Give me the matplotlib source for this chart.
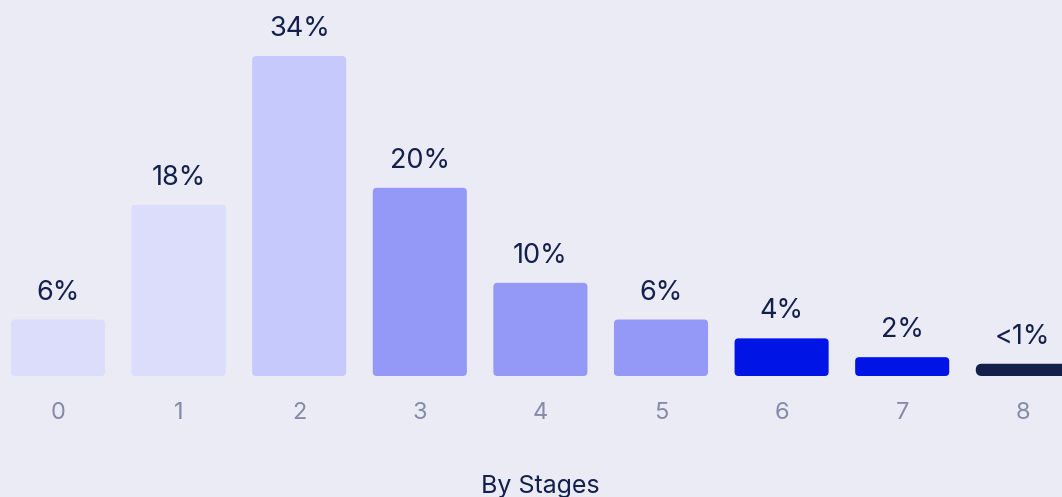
import matplotlib.pyplot as plt
from matplotlib.patches import FancyBboxPatch

plt.rcParams['font.family'] = ['Inter', 'DejaVu Sans']

# data
stages = ['0', '1', '2', '3', '4', '5', '6', '7', '8']
shares = [6, 18.2, 34, 20, 9.9, 6, 4, 2, 1.3]
share_labels = ['6%', '18%', '34%', '20%', '10%', '6%', '4%', '2%', '<1%']
bar_colors = ['#DCDDFB', '#DCDDFB', '#C5C9FB', '#9498F7', '#9498F7', '#9498F7',
              '#0014E6', '#0014E6', '#121F4B']

bg = '#EBEBF6'
navy = '#13204A'

fig = plt.figure(figsize=(10.62, 4.97), dpi=100, facecolor=bg)
ax = fig.add_axes([0, 121 / 497, 1, 376 / 497])
ax.set_facecolor(bg)

px_x = 120.6   # pixels per stage
px_y = 9.41    # pixels per percent
ax.set_xlim(-58 / px_x, (1062 - 58) / px_x)
ax.set_ylim(0, 376 / px_y)

width = 0.78
radius = 4 / px_x
for i, (v, c) in enumerate(zip(shares, bar_colors)):
    r = radius if i < 8 else 6 / px_x
    p = FancyBboxPatch((i - width / 2, 0), width, v,
                       boxstyle=f'round,pad=0,rounding_size={r}',
                       mutation_aspect=px_x / px_y,
                       facecolor=c, edgecolor='none', clip_on=False)
    ax.add_patch(p)
    ax.annotate(share_labels[i], (i, v), xytext=(0, 10), textcoords='offset points',
                ha='center', va='bottom', fontsize=19.5, color=navy)

ax.set_xticks(range(len(stages)))
ax.set_xticklabels(stages, fontsize=17, color='#858AA8')
ax.tick_params(axis='x', length=0, pad=19)
ax.set_yticks([])
for s in ax.spines.values():
    s.set_visible(False)

ax.text(4, -110 / px_y, 'By Stages', ha='center', va='center',
        fontsize=18, color=navy)

fig.savefig('out.png', dpi=100, facecolor=bg)
